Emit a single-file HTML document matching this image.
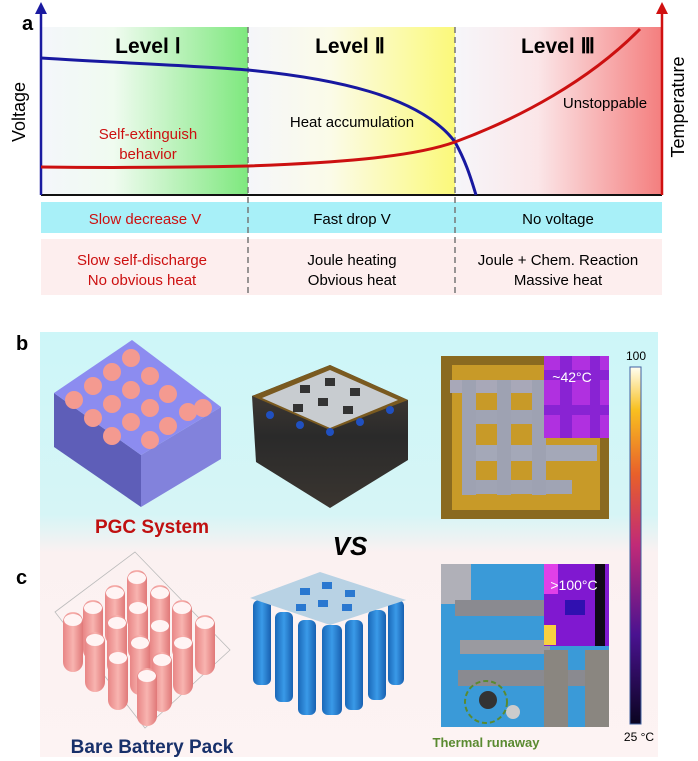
<!DOCTYPE html>
<html><head><meta charset="utf-8"><style>
html,body{margin:0;padding:0;background:#fff}
svg{display:block;font-family:"Liberation Sans",Arial,sans-serif}
</style></head><body>
<svg width="698" height="761" viewBox="0 0 698 761" xmlns="http://www.w3.org/2000/svg">
<defs>
<linearGradient id="g1" x1="0" x2="1"><stop offset="0" stop-color="#f4f6fb"/><stop offset="0.35" stop-color="#f0fbf0"/><stop offset="1" stop-color="#7ee87e"/></linearGradient>
<linearGradient id="g2" x1="0" x2="1"><stop offset="0" stop-color="#f5f6fa"/><stop offset="0.4" stop-color="#fbfbe8"/><stop offset="1" stop-color="#fbf97a"/></linearGradient>
<linearGradient id="g3" x1="0" x2="1"><stop offset="0" stop-color="#f6f6fa"/><stop offset="0.4" stop-color="#fbe6e8"/><stop offset="1" stop-color="#f47e7e"/></linearGradient>
<linearGradient id="bg" x1="0" y1="0" x2="0" y2="1"><stop offset="0" stop-color="#cdf6f8"/><stop offset="0.43" stop-color="#d6f5f6"/><stop offset="0.52" stop-color="#fbf1f1"/><stop offset="1" stop-color="#fdf3f3"/></linearGradient>
<linearGradient id="cb" x1="0" y1="1" x2="0" y2="0"><stop offset="0" stop-color="#0a0420"/><stop offset="0.25" stop-color="#4a1290"/><stop offset="0.5" stop-color="#c02a78"/><stop offset="0.7" stop-color="#e8602a"/><stop offset="0.88" stop-color="#f8c020"/><stop offset="1" stop-color="#fffff2"/></linearGradient>
<linearGradient id="cyl" x1="0" x2="1"><stop offset="0" stop-color="#e88686"/><stop offset="0.5" stop-color="#f8b4b0"/><stop offset="1" stop-color="#e07878"/></linearGradient>
<linearGradient id="bcyl" x1="0" x2="1"><stop offset="0" stop-color="#1a68b8"/><stop offset="0.5" stop-color="#3a9ae8"/><stop offset="1" stop-color="#1860b0"/></linearGradient>
<linearGradient id="stack" x1="0" y1="0" x2="0" y2="1"><stop offset="0" stop-color="#4a4038"/><stop offset="0.5" stop-color="#2a2a2a"/><stop offset="1" stop-color="#3a3530"/></linearGradient>
</defs>

<!-- Panel a -->
<rect x="41" y="27" width="207" height="168" fill="url(#g1)"/>
<rect x="248" y="27" width="207" height="168" fill="url(#g2)"/>
<rect x="455" y="27" width="207" height="168" fill="url(#g3)"/>
<rect x="41" y="202" width="621" height="31" fill="#a8f0f8"/>
<rect x="41" y="239" width="621" height="56" fill="#fdeeee"/>
<line x1="248" y1="27" x2="248" y2="297" stroke="#777" stroke-width="1.5" stroke-dasharray="6,4"/>
<line x1="455" y1="27" x2="455" y2="297" stroke="#777" stroke-width="1.5" stroke-dasharray="6,4"/>
<line x1="41" y1="195" x2="662" y2="195" stroke="#111" stroke-width="2"/>
<line x1="41" y1="195" x2="41" y2="12" stroke="#1a1aa0" stroke-width="2.5"/>
<polygon points="41,2 35,14 47,14" fill="#1a1aa0"/>
<line x1="662" y1="195" x2="662" y2="12" stroke="#d01010" stroke-width="2.5"/>
<polygon points="662,2 656,14 668,14" fill="#d01010"/>
<path d="M41,58 C120,63 200,66 248,70 C330,78 420,95 455,142 C465,160 470,175 476,195" fill="none" stroke="#1818a0" stroke-width="3"/>
<path d="M41,167 C120,168 200,167 248,166 C330,163 410,158 455,142 C520,118 590,80 640,29" fill="none" stroke="#cc1010" stroke-width="3"/>
<text x="22" y="30" font-size="20" font-weight="bold">a</text>
<text x="148" y="53" font-size="21" font-weight="bold" text-anchor="middle">Level Ⅰ</text>
<text x="350" y="53" font-size="21" font-weight="bold" text-anchor="middle">Level Ⅱ</text>
<text x="558" y="53" font-size="21" font-weight="bold" text-anchor="middle">Level Ⅲ</text>
<text transform="translate(25,112) rotate(-90)" font-size="18" text-anchor="middle">Voltage</text>
<text transform="translate(684,107) rotate(-90)" font-size="18" text-anchor="middle">Temperature</text>
<g font-size="15" text-anchor="middle">
<text x="148" y="139" fill="#cc1010">Self-extinguish</text>
<text x="148" y="159" fill="#cc1010">behavior</text>
<text x="352" y="127">Heat accumulation</text>
<text x="605" y="108">Unstoppable</text>
<text x="145" y="224" fill="#cc1010">Slow decrease V</text>
<text x="352" y="224">Fast drop V</text>
<text x="558" y="224">No voltage</text>
<text x="142" y="265" fill="#cc1010">Slow self-discharge</text>
<text x="142" y="285" fill="#cc1010">No obvious heat</text>
<text x="352" y="265">Joule heating</text>
<text x="352" y="285">Obvious heat</text>
<text x="558" y="265">Joule + Chem. Reaction</text>
<text x="558" y="285">Massive heat</text>
</g>

<!-- Panels b/c -->
<rect x="40" y="332" width="618" height="425" fill="url(#bg)"/>
<text x="16" y="350" font-size="20" font-weight="bold">b</text>
<text x="16" y="584" font-size="20" font-weight="bold">c</text>

<!-- PGC cube -->
<polygon points="54,393 141,455 141,507 54,447" fill="#5e5eb8"/>
<polygon points="141,455 221,407 221,459 141,507" fill="#8282dc"/>
<polygon points="132,340 54,393 141,455 221,407" fill="#8c8cf0"/>
<g fill="#f49a90">
<circle cx="131" cy="358" r="9"/>
<circle cx="112" cy="372" r="9"/><circle cx="150" cy="376" r="9"/>
<circle cx="93" cy="386" r="9"/><circle cx="131" cy="390" r="9"/><circle cx="168" cy="394" r="9"/>
<circle cx="74" cy="400" r="9"/><circle cx="112" cy="404" r="9"/><circle cx="150" cy="408" r="9"/><circle cx="188" cy="412" r="9"/>
<circle cx="93" cy="418" r="9"/><circle cx="131" cy="422" r="9"/><circle cx="168" cy="426" r="9"/><circle cx="203" cy="408" r="9"/>
<circle cx="112" cy="436" r="9"/><circle cx="150" cy="440" r="9"/><circle cx="131" cy="454" r="0"/><circle cx="185" cy="422" r="0"/>
</g>
<text x="152" y="533" font-size="19" font-weight="bold" fill="#c01010" text-anchor="middle">PGC System</text>

<!-- Pouch stack -->
<polygon points="252,396 330,365 408,400 408,460 330,508 256,462" fill="url(#stack)"/>
<polygon points="252,396 330,365 408,400 330,430" fill="#7a5a20"/>
<polygon points="262,398 330,370 398,400 330,428" fill="#c8ccd0"/>
<g fill="#333"><rect x="300" y="385" width="10" height="8"/><rect x="325" y="378" width="10" height="8"/><rect x="350" y="388" width="10" height="8"/><rect x="318" y="398" width="10" height="8"/><rect x="343" y="406" width="10" height="8"/><rect x="293" y="404" width="10" height="8"/></g>
<g fill="#2050c0"><circle cx="270" cy="415" r="4"/><circle cx="300" cy="425" r="4"/><circle cx="330" cy="432" r="4"/><circle cx="360" cy="422" r="4"/><circle cx="390" cy="410" r="4"/></g>

<text x="350" y="555" font-size="26" font-weight="bold" font-style="italic" text-anchor="middle">VS</text>

<!-- Thermal photo b -->
<rect x="441" y="356" width="168" height="163" fill="#8a6a20"/>
<rect x="452" y="365" width="148" height="145" fill="#c89a28"/>
<rect x="450" y="380" width="130" height="13" fill="#a8a8b8"/>
<rect x="462" y="410" width="120" height="14" fill="#a0a4b4"/>
<rect x="462" y="445" width="135" height="16" fill="#a4a8b8"/>
<rect x="462" y="480" width="110" height="14" fill="#a0a4b4"/>
<rect x="462" y="380" width="14" height="115" fill="#9ea2b2"/>
<rect x="497" y="380" width="14" height="115" fill="#9ea2b2"/>
<rect x="532" y="380" width="14" height="115" fill="#9ea2b2"/>
<rect x="544" y="356" width="65" height="82" fill="#b030e0"/>
<g fill="#8020d0" opacity="0.8"><rect x="544" y="370" width="65" height="10"/><rect x="560" y="356" width="12" height="82"/><rect x="590" y="356" width="10" height="82"/><rect x="544" y="405" width="65" height="10"/></g>
<text x="572" y="382" font-size="14" fill="#fff" text-anchor="middle">~42°C</text>

<!-- Pink cylinders -->
<polygon points="135,552 55,612 145,728 230,650" fill="none" stroke="#bbb" stroke-width="0.8"/>
<g fill="url(#cyl)">
<rect x="127" y="570" width="20" height="60" rx="10"/><rect x="105" y="585" width="20" height="60" rx="10"/><rect x="150" y="585" width="20" height="60" rx="10"/>
<rect x="83" y="600" width="20" height="60" rx="10"/><rect x="128" y="600" width="20" height="60" rx="10"/><rect x="172" y="600" width="20" height="60" rx="10"/>
<rect x="63" y="612" width="20" height="60" rx="10"/><rect x="107" y="615" width="20" height="60" rx="10"/><rect x="150" y="618" width="20" height="60" rx="10"/><rect x="195" y="615" width="20" height="60" rx="10"/>
<rect x="85" y="632" width="20" height="60" rx="10"/><rect x="130" y="635" width="20" height="60" rx="10"/><rect x="173" y="635" width="20" height="60" rx="10"/>
<rect x="108" y="650" width="20" height="60" rx="10"/><rect x="152" y="652" width="20" height="60" rx="10"/><rect x="137" y="668" width="20" height="58" rx="10"/>
</g>
<g fill="#fff4f4"><ellipse cx="137" cy="578" rx="9" ry="6"/><ellipse cx="115" cy="593" rx="9" ry="6"/><ellipse cx="160" cy="593" rx="9" ry="6"/><ellipse cx="93" cy="608" rx="9" ry="6"/><ellipse cx="138" cy="608" rx="9" ry="6"/><ellipse cx="182" cy="608" rx="9" ry="6"/><ellipse cx="73" cy="620" rx="9" ry="6"/><ellipse cx="117" cy="623" rx="9" ry="6"/><ellipse cx="160" cy="626" rx="9" ry="6"/><ellipse cx="205" cy="623" rx="9" ry="6"/><ellipse cx="95" cy="640" rx="9" ry="6"/><ellipse cx="140" cy="643" rx="9" ry="6"/><ellipse cx="183" cy="643" rx="9" ry="6"/><ellipse cx="118" cy="658" rx="9" ry="6"/><ellipse cx="162" cy="660" rx="9" ry="6"/><ellipse cx="147" cy="676" rx="9" ry="6"/></g>
<text x="152" y="753" font-size="19" font-weight="bold" fill="#18306a" text-anchor="middle">Bare Battery Pack</text>

<!-- Blue cylinders -->
<g fill="url(#bcyl)">
<rect x="253" y="600" width="18" height="85" rx="6"/><rect x="275" y="612" width="18" height="90" rx="6"/><rect x="298" y="620" width="18" height="95" rx="6"/><rect x="322" y="625" width="20" height="90" rx="6"/>
<rect x="345" y="620" width="18" height="90" rx="6"/><rect x="368" y="610" width="18" height="90" rx="6"/><rect x="388" y="600" width="16" height="85" rx="6"/>
</g>
<polygon points="250,598 320,572 406,600 330,625" fill="#b8d2e4"/>
<g fill="#2a78d0"><rect x="300" y="588" width="10" height="7"/><rect x="322" y="582" width="10" height="7"/><rect x="345" y="590" width="10" height="7"/><rect x="318" y="600" width="10" height="7"/><rect x="342" y="604" width="10" height="7"/><rect x="296" y="604" width="10" height="7"/></g>

<!-- Thermal photo c -->
<rect x="441" y="564" width="168" height="163" fill="#3a9ad8"/>
<rect x="441" y="564" width="30" height="40" fill="#b0b0b8"/>
<rect x="455" y="600" width="100" height="16" fill="#8a8a90"/>
<rect x="460" y="640" width="90" height="14" fill="#9a9aa0"/>
<rect x="458" y="670" width="150" height="16" fill="#8a8a90"/>
<rect x="544" y="650" width="24" height="77" fill="#8a8680"/>
<rect x="585" y="650" width="24" height="77" fill="#8a8680"/>
<circle cx="488" cy="700" r="9" fill="#333"/>
<circle cx="513" cy="712" r="7" fill="#ccc"/>
<circle cx="486" cy="702" r="21" fill="none" stroke="#5a8a30" stroke-width="2" stroke-dasharray="5,3"/>
<rect x="544" y="564" width="65" height="82" fill="#8018d0"/>
<g><rect x="544" y="564" width="14" height="30" fill="#e040e8"/><rect x="595" y="564" width="10" height="82" fill="#100818"/><rect x="544" y="625" width="12" height="20" fill="#f8d040"/><rect x="565" y="600" width="20" height="15" fill="#3010b0"/></g>
<text x="574" y="590" font-size="14" fill="#fff" text-anchor="middle">&gt;100°C</text>
<text x="486" y="747" font-size="13" font-weight="bold" fill="#5a8a30" text-anchor="middle">Thermal runaway</text>

<!-- Colorbar -->
<rect x="630" y="367" width="11" height="357" fill="url(#cb)" stroke="#4060a0" stroke-width="1"/>
<text x="636" y="360" font-size="12" text-anchor="middle">100</text>
<text x="639" y="741" font-size="12" text-anchor="middle">25 °C</text>
</svg>
</body></html>
